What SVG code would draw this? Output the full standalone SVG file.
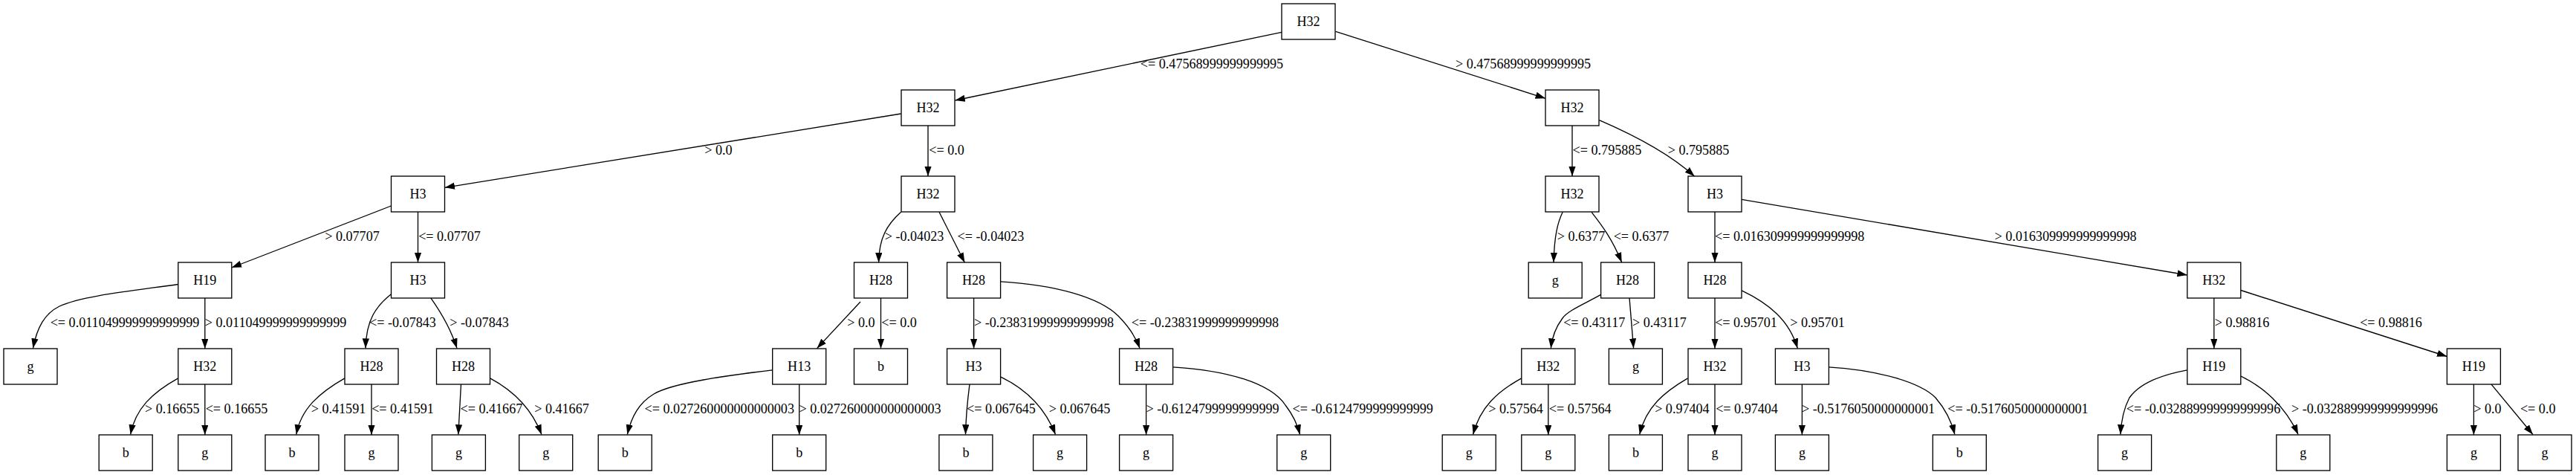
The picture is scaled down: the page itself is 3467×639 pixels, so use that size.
<svg xmlns="http://www.w3.org/2000/svg" width="3467" height="639" viewBox="0 0 3467 639">
<defs>
<marker id="ah" markerWidth="14" markerHeight="10" refX="13.3" refY="4.67" orient="auto" markerUnits="userSpaceOnUse"><path d="M0,0 L13.3,4.67 L0,9.33 z" fill="#000"/></marker>
<style>
.node rect{fill:#fff;stroke:#000;stroke-width:1.33}
text{font-family:"Liberation Serif","Times New Roman",serif;font-size:18.1px;fill:#000;text-anchor:middle}
.edge path{fill:none;stroke:#000;stroke-width:1.33;marker-end:url(#ah)}
</style>
</defs>
<rect width="3467" height="639" fill="#fff"/>
<g id="connectors">
<g class="edge"><path d="M1725,43.3 L1285.5,135"/><text x="1631" y="92">&lt;= 0.47568999999999995</text></g>
<g class="edge"><path d="M1797.6,42.3 L2079.9,132.3"/><text x="2050" y="92">&gt; 0.47568999999999995</text></g>
<g class="edge"><path d="M1212.6,153 L598.7,252.3"/><text x="967" y="208">&gt; 0.0</text></g>
<g class="edge"><path d="M1249,169 L1249,237"/><text x="1274" y="208">&lt;= 0.0</text></g>
<g class="edge"><path d="M2116,169 L2116,237"/><text x="2163" y="208">&lt;= 0.795885</text></g>
<g class="edge"><path d="M2152.4,161.7 C2195,180 2245,205 2280.7,237.3"/><text x="2286" y="208">&gt; 0.795885</text></g>
<g class="edge"><path d="M526.4,277 L311.8,360"/><text x="474" y="324">&gt; 0.07707</text></g>
<g class="edge"><path d="M562.5,285 L562.5,353"/><text x="605" y="324">&lt;= 0.07707</text></g>
<g class="edge"><path d="M1212.6,285.3 C1194,302 1183,320 1182.6,353.2"/><text x="1230.5" y="324">&gt; -0.04023</text></g>
<g class="edge"><path d="M1264,285.3 L1298.4,353.2"/><text x="1333.5" y="324">&lt;= -0.04023</text></g>
<g class="edge"><path d="M2103.2,285.3 C2096,300 2092,318 2091,353"/><text x="2128" y="324">&gt; 0.6377</text></g>
<g class="edge"><path d="M2142,285.3 C2156,303 2170,322 2182.7,353"/><text x="2209" y="324">&lt;= 0.6377</text></g>
<g class="edge"><path d="M2308,285 L2308,353"/><text x="2408.7" y="324">&lt;= 0.016309999999999998</text></g>
<g class="edge"><path d="M2344.2,268.3 L2943.7,370"/><text x="2780" y="324">&gt; 0.016309999999999998</text></g>
<g class="edge"><path d="M239.7,382.5 C180,391 110,398 80,412 C60,422 50,440 44.4,468.6"/><text x="168" y="440">&lt;= 0.011049999999999999</text></g>
<g class="edge"><path d="M275.8,401 L275.8,469"/><text x="371" y="440">&gt; 0.011049999999999999</text></g>
<g class="edge"><path d="M526.4,395.8 C506,412 493,430 492,468.6"/><text x="542" y="440">&lt;= -0.07843</text></g>
<g class="edge"><path d="M579.8,400.8 C592,418 606,440 615,468.6"/><text x="645" y="440">&gt; -0.07843</text></g>
<g class="edge"><path d="M1158,406 L1099.6,468.6"/><text x="1159" y="440">&gt; 0.0</text></g>
<g class="edge"><path d="M1185.5,401 L1185.5,469"/><text x="1210" y="440">&lt;= 0.0</text></g>
<g class="edge"><path d="M1310.6,401 L1310.6,469"/><text x="1405" y="440">&gt; -0.23831999999999998</text></g>
<g class="edge"><path d="M1346.9,378.8 C1420,383 1480,400 1505,425 C1518,438 1528,452 1534,468.6"/><text x="1622" y="440">&lt;= -0.23831999999999998</text></g>
<g class="edge"><path d="M2154.6,396.4 C2130,410 2110,418 2103,428 C2094,440 2089,452 2087.3,468.6"/><text x="2145.7" y="440">&lt;= 0.43117</text></g>
<g class="edge"><path d="M2193,400.8 L2198.6,468.6"/><text x="2233.4" y="440">&gt; 0.43117</text></g>
<g class="edge"><path d="M2308,401 L2308,469"/><text x="2350" y="440">&lt;= 0.95701</text></g>
<g class="edge"><path d="M2344.2,390.8 C2380,408 2408,430 2419.3,468.6"/><text x="2446" y="440">&gt; 0.95701</text></g>
<g class="edge"><path d="M2979.8,401 L2979.8,469"/><text x="3017.5" y="440">&gt; 0.98816</text></g>
<g class="edge"><path d="M3015.9,390.5 L3293.3,479.5"/><text x="3218" y="440">&lt;= 0.98816</text></g>
<g class="edge"><path d="M239.7,508.8 C205,528 182,550 175.7,584.5"/><text x="231.8" y="556">&gt; 0.16655</text></g>
<g class="edge"><path d="M275.8,517 L275.8,585"/><text x="318.5" y="556">&lt;= 0.16655</text></g>
<g class="edge"><path d="M463.9,508.8 C430,528 405,550 398.8,584.5"/><text x="455.5" y="556">&gt; 0.41591</text></g>
<g class="edge"><path d="M500,517 L500,585"/><text x="542" y="556">&lt;= 0.41591</text></g>
<g class="edge"><path d="M620.5,516.8 L616.8,584.5"/><text x="661.4" y="556">&lt;= 0.41667</text></g>
<g class="edge"><path d="M659.7,508.8 C690,525 715,548 728.9,584.5"/><text x="756" y="556">&gt; 0.41667</text></g>
<g class="edge"><path d="M1039.6,497.8 C980,505 905,515 880,530 C860,542 850,560 844.3,584.5"/><text x="968.3" y="556">&lt;= 0.027260000000000003</text></g>
<g class="edge"><path d="M1075.7,517 L1075.7,585"/><text x="1171" y="556">&gt; 0.027260000000000003</text></g>
<g class="edge"><path d="M1305,516.8 C1302,540 1300,560 1299.5,584.5"/><text x="1347.4" y="556">&lt;= 0.067645</text></g>
<g class="edge"><path d="M1346.9,507.1 C1378,522 1405,545 1420.5,584.5"/><text x="1453" y="556">&gt; 0.067645</text></g>
<g class="edge"><path d="M1542.6,517 L1542.6,585"/><text x="1632" y="556">&gt; -0.6124799999999999</text></g>
<g class="edge"><path d="M1578.8,493.8 C1650,498 1710,515 1730,545 C1740,558 1746,570 1749.5,584.5"/><text x="1834.2" y="556">&lt;= -0.6124799999999999</text></g>
<g class="edge"><path d="M2047.7,508.8 C2015,527 1992,548 1982.6,584.5"/><text x="2040.1" y="556">&gt; 0.57564</text></g>
<g class="edge"><path d="M2083.8,517 L2083.8,585"/><text x="2126.7" y="556">&lt;= 0.57564</text></g>
<g class="edge"><path d="M2271.5,508.8 C2240,527 2215,548 2206.7,584.5"/><text x="2263.9" y="556">&gt; 0.97404</text></g>
<g class="edge"><path d="M2308,517 L2308,585"/><text x="2351" y="556">&lt;= 0.97404</text></g>
<g class="edge"><path d="M2425.4,517 L2425.4,585"/><text x="2514.5" y="556">&gt; -0.5176050000000001</text></g>
<g class="edge"><path d="M2461.4,493.8 C2530,498 2585,515 2605,535 C2618,550 2626,565 2630.9,584.5"/><text x="2716" y="556">&lt;= -0.5176050000000001</text></g>
<g class="edge"><path d="M2943.7,497.8 C2905,505 2878,518 2866,535 C2858,550 2855,565 2853.9,584.5"/><text x="2965.5" y="556">&lt;= -0.032889999999999996</text></g>
<g class="edge"><path d="M3015.9,506.1 C3045,520 3075,545 3093.1,584.5"/><text x="3182.5" y="556">&gt; -0.032889999999999996</text></g>
<g class="edge"><path d="M3329.4,517 L3329.4,585"/><text x="3348" y="556">&gt; 0.0</text></g>
<g class="edge"><path d="M3352.9,516.8 L3408.9,584.5"/><text x="3415.7" y="556">&lt;= 0.0</text></g>
</g>
<g id="n0" class="node"><rect x="1725" y="5" width="72" height="48"/><text x="1761" y="35">H32</text></g>
<g id="n1" class="node"><rect x="1213" y="121" width="72" height="48"/><text x="1249" y="151">H32</text></g>
<g id="n2" class="node"><rect x="2080" y="121" width="72" height="48"/><text x="2116" y="151">H32</text></g>
<g id="n3" class="node"><rect x="526.5" y="237" width="72" height="48"/><text x="562.5" y="267">H3</text></g>
<g id="n4" class="node"><rect x="1213" y="237" width="72" height="48"/><text x="1249" y="267">H32</text></g>
<g id="n5" class="node"><rect x="2080" y="237" width="72" height="48"/><text x="2116" y="267">H32</text></g>
<g id="n6" class="node"><rect x="2272" y="237" width="72" height="48"/><text x="2308" y="267">H3</text></g>
<g id="n7" class="node"><rect x="239.8" y="353" width="72" height="48"/><text x="275.8" y="383">H19</text></g>
<g id="n8" class="node"><rect x="526.5" y="353" width="72" height="48"/><text x="562.5" y="383">H3</text></g>
<g id="n9" class="node"><rect x="1149.5" y="353" width="72" height="48"/><text x="1185.5" y="383">H28</text></g>
<g id="n10" class="node"><rect x="1274.6" y="353" width="72" height="48"/><text x="1310.6" y="383">H28</text></g>
<g id="n11" class="node"><rect x="2057.2" y="353" width="72" height="48"/><text x="2093.2" y="383">g</text></g>
<g id="n12" class="node"><rect x="2154.6" y="353" width="72" height="48"/><text x="2190.6" y="383">H28</text></g>
<g id="n13" class="node"><rect x="2272" y="353" width="72" height="48"/><text x="2308" y="383">H28</text></g>
<g id="n14" class="node"><rect x="2943.8" y="353" width="72" height="48"/><text x="2979.8" y="383">H32</text></g>
<g id="n15" class="node"><rect x="5" y="469" width="72" height="48"/><text x="41" y="499">g</text></g>
<g id="n16" class="node"><rect x="239.8" y="469" width="72" height="48"/><text x="275.8" y="499">H32</text></g>
<g id="n17" class="node"><rect x="464" y="469" width="72" height="48"/><text x="500" y="499">H28</text></g>
<g id="n18" class="node"><rect x="587.5" y="469" width="72" height="48"/><text x="623.5" y="499">H28</text></g>
<g id="n19" class="node"><rect x="1039.7" y="469" width="72" height="48"/><text x="1075.7" y="499">H13</text></g>
<g id="n20" class="node"><rect x="1149.5" y="469" width="72" height="48"/><text x="1185.5" y="499">b</text></g>
<g id="n21" class="node"><rect x="1274.6" y="469" width="72" height="48"/><text x="1310.6" y="499">H3</text></g>
<g id="n22" class="node"><rect x="1506.6" y="469" width="72" height="48"/><text x="1542.6" y="499">H28</text></g>
<g id="n23" class="node"><rect x="2047.8" y="469" width="72" height="48"/><text x="2083.8" y="499">H32</text></g>
<g id="n24" class="node"><rect x="2165.4" y="469" width="72" height="48"/><text x="2201.4" y="499">g</text></g>
<g id="n25" class="node"><rect x="2272" y="469" width="72" height="48"/><text x="2308" y="499">H32</text></g>
<g id="n26" class="node"><rect x="2389.4" y="469" width="72" height="48"/><text x="2425.4" y="499">H3</text></g>
<g id="n27" class="node"><rect x="2943.8" y="469" width="72" height="48"/><text x="2979.8" y="499">H19</text></g>
<g id="n28" class="node"><rect x="3293.4" y="469" width="72" height="48"/><text x="3329.4" y="499">H19</text></g>
<g id="n29" class="node"><rect x="133.2" y="585" width="72" height="48"/><text x="169.2" y="615">b</text></g>
<g id="n30" class="node"><rect x="239.8" y="585" width="72" height="48"/><text x="275.8" y="615">g</text></g>
<g id="n31" class="node"><rect x="357" y="585" width="72" height="48"/><text x="393" y="615">b</text></g>
<g id="n32" class="node"><rect x="464" y="585" width="72" height="48"/><text x="500" y="615">g</text></g>
<g id="n33" class="node"><rect x="581.4" y="585" width="72" height="48"/><text x="617.4" y="615">g</text></g>
<g id="n34" class="node"><rect x="698.7" y="585" width="72" height="48"/><text x="734.7" y="615">g</text></g>
<g id="n35" class="node"><rect x="805.2" y="585" width="72" height="48"/><text x="841.2" y="615">b</text></g>
<g id="n36" class="node"><rect x="1039.7" y="585" width="72" height="48"/><text x="1075.7" y="615">b</text></g>
<g id="n37" class="node"><rect x="1263.9" y="585" width="72" height="48"/><text x="1299.9" y="615">b</text></g>
<g id="n38" class="node"><rect x="1390.6" y="585" width="72" height="48"/><text x="1426.6" y="615">g</text></g>
<g id="n39" class="node"><rect x="1506.6" y="585" width="72" height="48"/><text x="1542.6" y="615">g</text></g>
<g id="n40" class="node"><rect x="1718.7" y="585" width="72" height="48"/><text x="1754.7" y="615">g</text></g>
<g id="n41" class="node"><rect x="1941.2" y="585" width="72" height="48"/><text x="1977.2" y="615">g</text></g>
<g id="n42" class="node"><rect x="2047.8" y="585" width="72" height="48"/><text x="2083.8" y="615">g</text></g>
<g id="n43" class="node"><rect x="2165.4" y="585" width="72" height="48"/><text x="2201.4" y="615">b</text></g>
<g id="n44" class="node"><rect x="2272" y="585" width="72" height="48"/><text x="2308" y="615">g</text></g>
<g id="n45" class="node"><rect x="2389.4" y="585" width="72" height="48"/><text x="2425.4" y="615">g</text></g>
<g id="n46" class="node"><rect x="2601.3" y="585" width="72" height="48"/><text x="2637.3" y="615">b</text></g>
<g id="n47" class="node"><rect x="2823.6" y="585" width="72" height="48"/><text x="2859.6" y="615">g</text></g>
<g id="n48" class="node"><rect x="3063.8" y="585" width="72" height="48"/><text x="3099.8" y="615">g</text></g>
<g id="n49" class="node"><rect x="3293.4" y="585" width="72" height="48"/><text x="3329.4" y="615">g</text></g>
<g id="n50" class="node"><rect x="3389" y="585" width="72" height="48"/><text x="3425" y="615">g</text></g>
</svg>
